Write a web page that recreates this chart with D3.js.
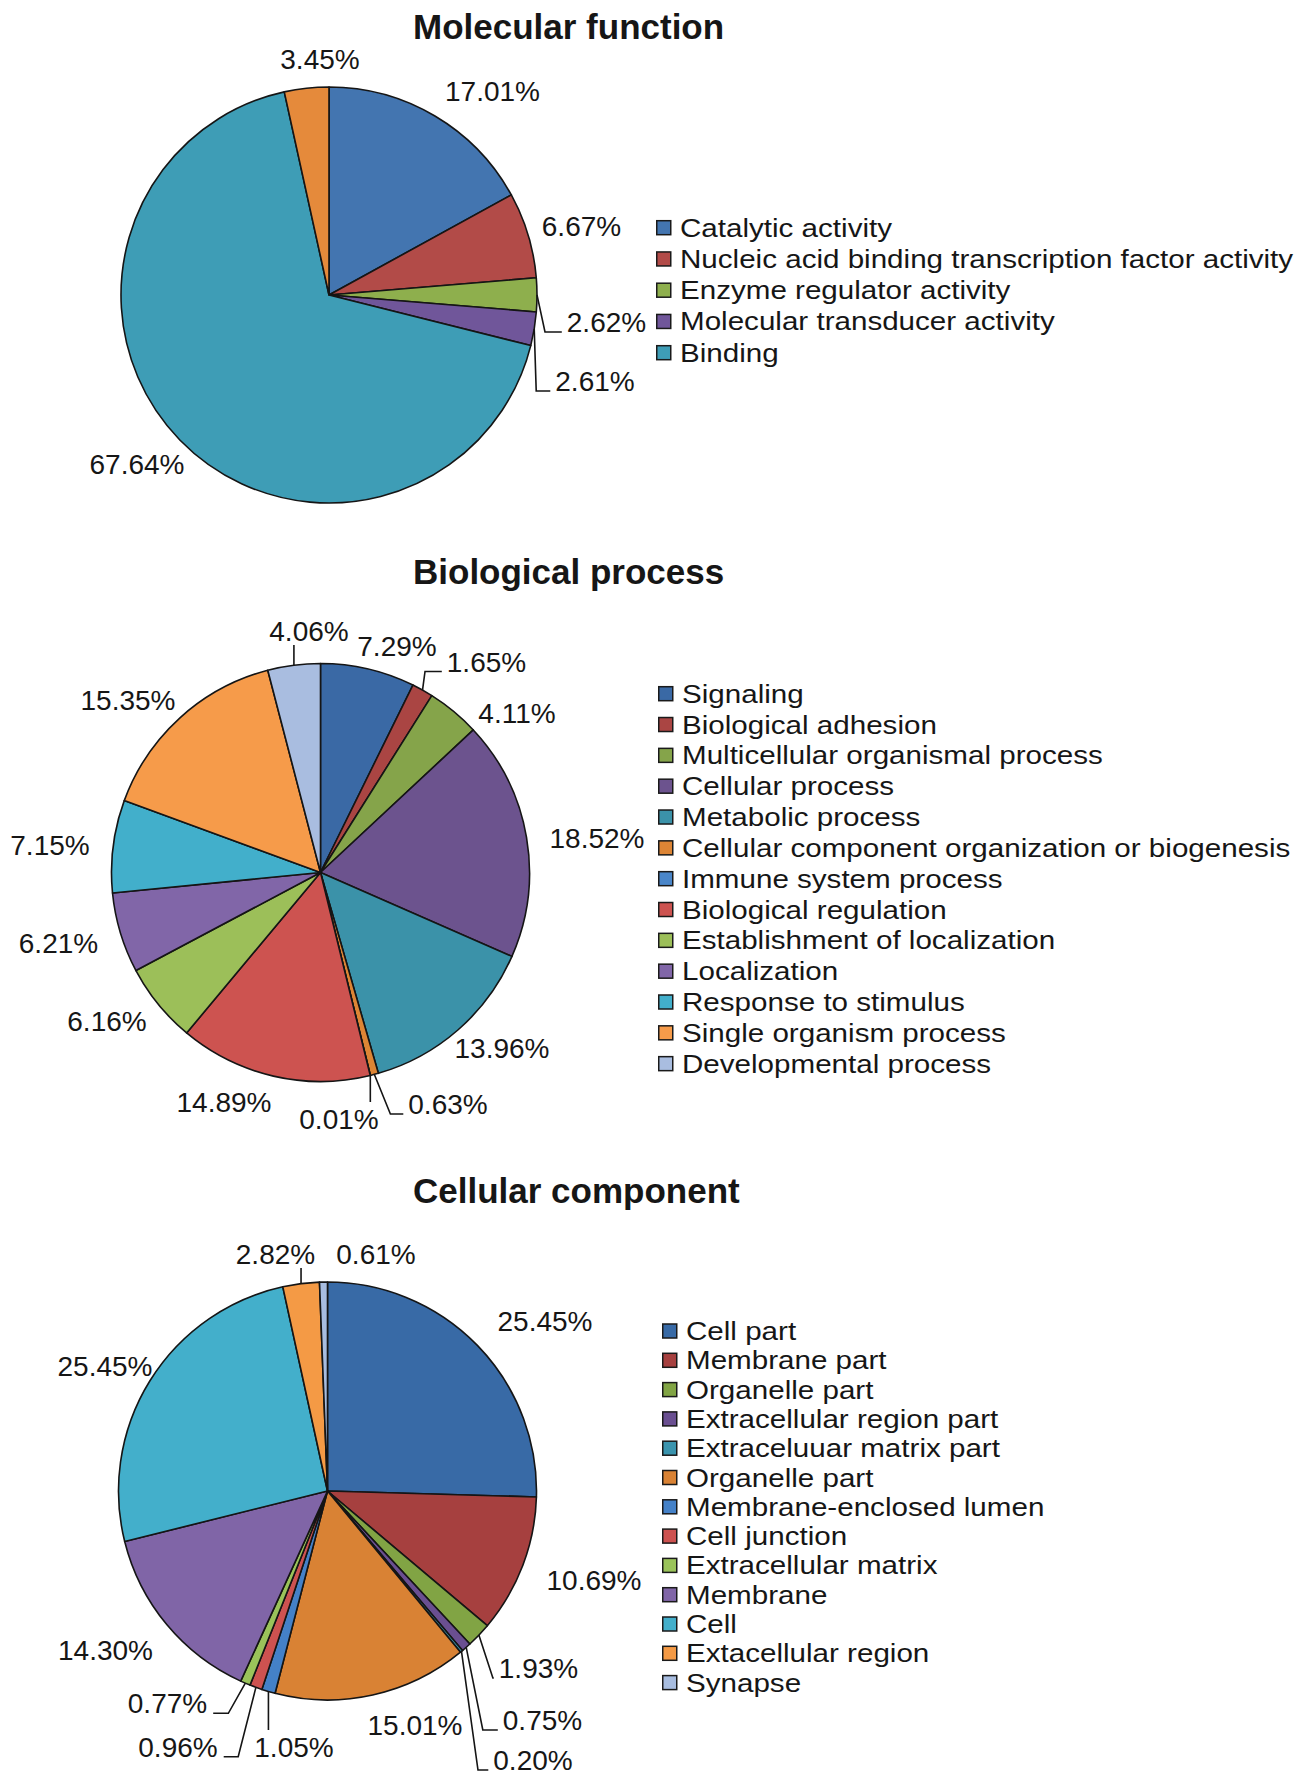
<!DOCTYPE html>
<html>
<head>
<meta charset="utf-8">
<script src="https://cdnjs.cloudflare.com/ajax/libs/d3/7.8.5/d3.min.js"></script>
<style>
	body { margin: 0; background: #fff; }
	svg { display: block; }
	text { font-family: "Liberation Sans", Arial, Helvetica, sans-serif; fill: #161616; }
</style>
</head>
<body>
<div id="chart"></div>
<script>
// Molecular function
const mfCategories = ['Catalytic activity', 'Nucleic acid binding transcription factor activity',
	'Enzyme regulator activity', 'Molecular transducer activity', 'Binding'];
// last slice (orange) has no legend entry in the original
const mfValues = [17.01, 6.67, 2.62, 2.61, 67.64, 3.45];
const mfColors = ['#4375b0', '#b24b48', '#8eaf4d', '#70569a', '#3e9db6', '#e58a3b'];

// Biological process
const bpCategories = ['Signaling', 'Biological adhesion', 'Multicellular organismal process',
	'Cellular process', 'Metabolic process', 'Cellular component organization or biogenesis',
	'Immune system process', 'Biological regulation', 'Establishment of localization',
	'Localization', 'Response to stimulus', 'Single organism process', 'Developmental process'];
const bpValues = [7.29, 1.65, 4.11, 18.52, 13.96, 0.63, 0.01, 14.89, 6.16, 6.21, 7.15, 15.35, 4.06];
const bpColors = ['#3a69a5', '#aa4543', '#85a44a', '#6c538e', '#3b92a9', '#dd8535', '#4a86c9',
	'#cd5350', '#9cbf59', '#8166a8', '#42afcb', '#f69b4a', '#a9bde0'];

// Cellular component
const ccCategories = ['Cell part', 'Membrane part', 'Organelle part', 'Extracellular region part',
	'Extraceluuar matrix part', 'Organelle part', 'Membrane-enclosed lumen', 'Cell junction',
	'Extracellular matrix', 'Membrane', 'Cell', 'Extacellular region', 'Synapse'];
const ccValues = [25.45, 10.69, 1.93, 0.75, 0.20, 15.01, 1.05, 0.96, 0.77, 14.30, 25.45, 2.82, 0.61];
const ccColors = ['#386aa6', '#a6403f', '#81a444', '#6a4f91', '#3a94ae', '#d98234', '#4481c8',
	'#cd5250', '#9ac35a', '#8065a7', '#43afcb', '#f49a45', '#a8bde0'];

// label placement, relative to pie centre (label centre x, baseline y)
const mfLabelPos = [[163.5, -194], [252.5, -59], [277.5, 37], [266, 96], [-192, 179], [-9, -226]];
const mfLeaders = [null, null, { type: 'L', ex: 8 }, { type: 'L', ex: 2 }, null, null];

const bpLabelPos = [[76.5, -216.5], [166, -201], [196.5, -149.5], [276.5, -25], [181.5, 185.5],
	[127.5, 241.5], [18.5, 256.5], [-96.5, 239], [-213.5, 158.5], [-262, 80.5], [-270.5, -17.5],
	[-192.5, -162.5], [-11.5, -231.5]];
const bpLeaders = [null, { type: 'L', ex: 2.5 }, null, null, null, { type: 'L', ex: 16 }, { type: 'v' },
	null, null, null, null, null, { type: 'v' }];

const ccLabelPos = [[217.5, -160.4], [266.5, 98.5], [211, 187], [215, 239], [205.5, 279], [87.5, 244],
	[-33.5, 266], [-149.5, 265.7], [-160, 222.3], [-222, 169], [-222.5, -115], [-52, -227], [48.5, -227]];
const ccLeaders = [null, null, { type: 'L', ex: 14 }, { type: 'L', ex: 16.6 }, { type: 'L', ex: 16.5 },
	null, { type: 'v' }, { type: 'L', ex: -17.7 }, { type: 'L', ex: -17 }, null, null, { type: 'v' }, null];

const charts = [
	{ title: 'Molecular function', titleY: 38.5, cx: 329, cy: 295, r: 208,
		categories: mfCategories, values: mfValues, colors: mfColors, labelPos: mfLabelPos, leaders: mfLeaders,
		legendX: 656, legendY: 236.7, legendStep: 31.25 },
	{ title: 'Biological process', titleY: 583.5, cx: 320.5, cy: 872.5, r: 209,
		categories: bpCategories, values: bpValues, colors: bpColors, labelPos: bpLabelPos, leaders: bpLeaders,
		legendX: 658, legendY: 702.7, legendStep: 30.83 },
	{ title: 'Cellular component', titleY: 1202.5, cx: 327.5, cy: 1491, r: 209,
		categories: ccCategories, values: ccValues, colors: ccColors, labelPos: ccLabelPos, leaders: ccLeaders,
		legendX: 662, legendY: 1340, legendStep: 29.3 }
];

const width = 1309, height = 1775;
const svg = d3.select('#chart').append('svg')
	.attr('width', width)
	.attr('height', height);

const fmt = d3.format('.2f');

function drawPie(cfg) {
	const g = svg.append('g');

	g.append('text')
		.attr('x', 413)
		.attr('y', cfg.titleY)
		.attr('font-size', 35)
		.attr('font-weight', 'bold')
		.attr('fill', '#111')
		.text(cfg.title);

	const pie = d3.pie().sort(null).value(d => d);
	const arcs = pie(cfg.values);
	const arc = d3.arc().innerRadius(0).outerRadius(cfg.r);
	const edge = d3.arc().innerRadius(cfg.r).outerRadius(cfg.r);

	const pg = g.append('g').attr('transform', `translate(${cfg.cx},${cfg.cy})`);

	pg.selectAll('path.slice')
		.data(arcs)
		.enter().append('path')
		.attr('class', 'slice')
		.attr('d', arc)
		.attr('fill', (d, i) => cfg.colors[i])
		.attr('stroke', '#151515')
		.attr('stroke-width', 1.6)
		.attr('stroke-linejoin', 'round');

	// percentage labels
	const labels = pg.selectAll('text.pct')
		.data(arcs)
		.enter().append('text')
		.attr('class', 'pct')
		.attr('x', (d, i) => cfg.labelPos[i][0])
		.attr('y', (d, i) => cfg.labelPos[i][1])
		.attr('text-anchor', 'middle')
		.attr('font-size', 28)
		.text(d => fmt(d.data) + '%');

	// leader lines for small slices
	labels.each(function(d, i) {
		const lead = cfg.leaders[i];
		if (!lead) return;
		const box = this.getBBox();
		const start = edge.centroid(d);
		const base = cfg.labelPos[i][1];
		let pts;
		if (lead.type === 'v') {
			const yEnd = base < 0 ? base + 4 : base - 27;
			pts = [start, [start[0], yEnd]];
		} else {
			const elbow = [start[0] + lead.ex, base];
			const xEnd = box.x > elbow[0] ? box.x - 5 : box.x + box.width + 6;
			pts = [start, elbow, [xEnd, base]];
		}
		pg.append('path')
			.attr('d', d3.line()(pts))
			.attr('fill', 'none')
			.attr('stroke', '#151515')
			.attr('stroke-width', 1.6);
	});

	// legend
	const lg = g.append('g').attr('transform', `translate(${cfg.legendX},${cfg.legendY})`);
	const rows = lg.selectAll('g.row')
		.data(cfg.categories)
		.enter().append('g')
		.attr('class', 'row')
		.attr('transform', (d, i) => `translate(0,${i * cfg.legendStep})`);

	rows.append('rect')
		.attr('x', 0.75)
		.attr('y', -16)
		.attr('width', 14)
		.attr('height', 14)
		.attr('fill', (d, i) => cfg.colors[i])
		.attr('stroke', '#1a1a1a')
		.attr('stroke-width', 1.5);

	rows.append('text')
		.attr('transform', 'translate(24,0) scale(1.16,1)')
		.attr('font-size', 25.5)
		.text(d => d);
}

charts.forEach(drawPie);
</script>
</body>
</html>
